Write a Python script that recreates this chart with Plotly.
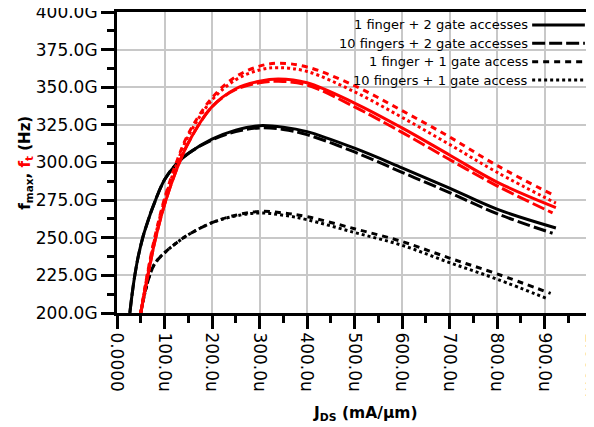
import plotly.graph_objects as go

# ---------------- data (x in µA/µm -> shown as "u", y in GHz -> shown as "G") ----------------
series_names = ["1 finger + 2 gate accesses", "10 fingers + 2 gate accesses",
                "1 finger + 1 gate access", "10 fingers + 1 gate access"]

# fmax (black)
fmax_1f2g_x = [27, 32, 38, 45, 55, 65, 75, 100, 125, 150, 200, 250, 300, 350, 400, 500, 600, 700, 800, 924]
fmax_1f2g_y = [200, 213, 226, 238, 251, 261, 270, 288.5, 299, 306, 315.5, 321.5, 324.5, 323.5, 320.5, 309.5, 296.5, 283, 269, 256.5]

fmax_10f2g_x = [27, 32, 38, 45, 55, 65, 75, 100, 125, 150, 200, 250, 300, 350, 400, 500, 600, 700, 800, 917]
fmax_10f2g_y = [200, 213, 226, 238, 251, 261, 270, 288.5, 299, 306, 315, 320.5, 323, 322, 318.5, 307, 293.5, 280, 266, 253]

fmax_1f1g_x = [50, 60, 70, 80, 100, 125, 150, 200, 250, 300, 350, 400, 500, 600, 700, 800, 913]
fmax_1f1g_y = [200, 215, 226, 233, 240, 246.5, 252, 260, 265, 267.5, 266.5, 264, 256, 247.5, 236.5, 226, 213]

fmax_10f1g_x = [50, 60, 70, 80, 100, 125, 150, 200, 250, 300, 350, 400, 500, 600, 700, 800, 906]
fmax_10f1g_y = [200, 215, 226, 233, 240, 246.5, 252, 260, 264.5, 266.5, 265, 262, 253.5, 245, 233.5, 222.5, 209.5]

# ft (red)
ft_1f2g_x = [50, 60, 70, 80, 100, 125, 150, 200, 250, 300, 340, 400, 500, 600, 700, 800, 924]
ft_1f2g_y = [200, 217, 233, 248, 272, 295, 313, 337, 349, 354, 355.5, 353, 339.5, 323, 305, 287, 270]

ft_10f2g_x = [50, 60, 70, 80, 100, 125, 150, 200, 250, 300, 340, 400, 500, 600, 700, 800, 917]
ft_10f2g_y = [200, 217, 233, 248, 272, 295, 313, 337, 348.5, 353, 354, 351.5, 337, 320, 302, 284.5, 266.5]

ft_1f1g_x = [50, 60, 70, 80, 100, 125, 150, 200, 250, 300, 340, 400, 500, 600, 700, 800, 918]
ft_1f1g_y = [200, 219, 236, 251, 276, 300, 319, 343, 357, 364, 366, 363.5, 351, 334.5, 317, 298, 278.5]

ft_10f1g_x = [50, 60, 70, 80, 100, 125, 150, 200, 250, 300, 340, 400, 500, 600, 700, 800, 924]
ft_10f1g_y = [200, 218.5, 235, 250, 275, 298.5, 317.5, 341.5, 355, 361.5, 363, 360.5, 347, 330, 312, 293.5, 273]

x_tickvals = [0, 100, 200, 300, 400, 500, 600, 700, 800, 900, 1000]
x_ticktext = ["0.0000", "100.0u", "200.0u", "300.0u", "400.0u", "500.0u",
              "600.0u", "700.0u", "800.0u", "900.0u", "1.000m"]
y_tickvals = [200, 225, 250, 275, 300, 325, 350, 375, 400]
y_ticktext = ["200.0G", "225.0G", "250.0G", "275.0G", "300.0G",
              "325.0G", "350.0G", "375.0G", "400.0G"]

# ---------------- styles ----------------
FONT = "DejaVu Sans"
dashes = ["solid", "13px,4px", "6px,5px", "3px,3px"]
LW = 3

fig = go.Figure()

black = [(fmax_1f2g_x, fmax_1f2g_y), (fmax_10f2g_x, fmax_10f2g_y),
         (fmax_1f1g_x, fmax_1f1g_y), (fmax_10f1g_x, fmax_10f1g_y)]
red = [(ft_1f2g_x, ft_1f2g_y), (ft_10f2g_x, ft_10f2g_y),
       (ft_1f1g_x, ft_1f1g_y), (ft_10f1g_x, ft_10f1g_y)]

for (xs, ys), d, n in zip(black, dashes, series_names):
    fig.add_trace(go.Scatter(x=xs, y=ys, mode="lines", name="fmax " + n,
                             line=dict(color="black", width=LW, dash=d, shape="spline"),
                             showlegend=False))
for (xs, ys), d, n in zip(red, dashes, series_names):
    fig.add_trace(go.Scatter(x=xs, y=ys, mode="lines", name="ft " + n,
                             line=dict(color="#ff0000", width=LW, dash=d, shape="spline"),
                             showlegend=False))

# ---------------- custom legend (text right, line sample at right) ----------------
leg_rows_y = [0.957, 0.896, 0.835, 0.774]
for n, d, yy in zip(series_names, dashes, leg_rows_y):
    fig.add_annotation(x=0.870, y=yy, xref="paper", yref="paper", text=n,
                       showarrow=False, xanchor="right", yanchor="middle",
                       font=dict(family=FONT, size=13, color="black"))
    fig.add_shape(type="line", xref="paper", yref="paper",
                  x0=0.874, x1=0.985, y0=yy, y1=yy,
                  line=dict(color="black", width=LW, dash=d))

# ---------------- axis titles ----------------
fig.add_annotation(x=-0.193, y=0.5, xref="paper", yref="paper",
                   text="<b>f<sub>max</sub>, <span style='color:#ff0000'>f<sub>t</sub></span> (Hz)</b>",
                   textangle=-90, showarrow=False, xanchor="center", yanchor="middle",
                   font=dict(family=FONT, size=15, color="black"))
fig.add_annotation(x=0.523, y=-0.335, xref="paper", yref="paper",
                   text="<b>J<sub>DS</sub> (mA/µm)</b>",
                   showarrow=False, xanchor="center", yanchor="middle",
                   font=dict(family=FONT, size=15.5, color="black"))

axis_common = dict(
    showline=True, linecolor="black", linewidth=3, mirror=True,
    ticks="outside", ticklen=13, tickwidth=3, tickcolor="black",
    showgrid=True, gridcolor="#c8c8c8", gridwidth=1.5,
    zeroline=False, automargin=False, ticklabeloverflow="allow",
    tickfont=dict(family=FONT, size=17, color="black"),
)

fig.update_xaxes(range=[0, 1000], tickmode="array", tickvals=x_tickvals, ticktext=x_ticktext,
                 tickangle=90,
                 minor=dict(ticks="outside", ticklen=7, tickwidth=3, tickcolor="black",
                            dtick=50, showgrid=False),
                 **axis_common)
fig.update_yaxes(range=[200, 400], tickmode="array", tickvals=y_tickvals, ticktext=y_ticktext,
                 minor=dict(ticks="outside", ticklen=7, tickwidth=3, tickcolor="black",
                            dtick=12.5, showgrid=False),
                 **axis_common)

# page body has an 8px default margin: size/margins compensate so the plot lands where the reference has it
fig.update_layout(
    template="none",
    width=586, height=419,
    margin=dict(l=109, r=2, t=4, b=114, pad=0),
    paper_bgcolor="white", plot_bgcolor="white",
    showlegend=False,
    font=dict(family=FONT, color="black"),
)

fig.write_html("out.html")
